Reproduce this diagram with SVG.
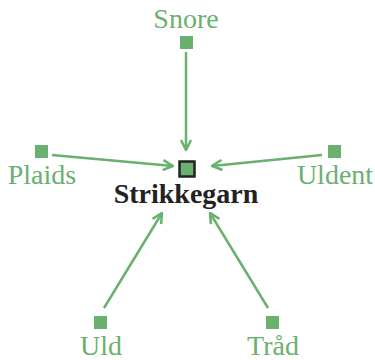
<svg xmlns="http://www.w3.org/2000/svg" width="375" height="360" viewBox="0 0 375 360">
<defs>
<style>
.lbl{font-family:"Liberation Serif","Times New Roman",serif;font-size:28px;fill:#6ab06f;text-anchor:middle}
.sq{fill:#6ab06f}
.edge{stroke:#6ab06f;stroke-width:2.5;fill:none;marker-end:url(#arr)}
</style>
<marker id="arr" viewBox="0 0 12 12" refX="11" refY="6" markerWidth="12" markerHeight="12" markerUnits="userSpaceOnUse" orient="auto">
<path d="M1,1 L11,6 L1,11" fill="none" stroke="#6ab06f" stroke-width="2.5"/>
</marker>
</defs>
<rect width="375" height="360" fill="#fff"/>
<g id="connectors">
<line class="edge" x1="186" y1="52" x2="186" y2="150"/>
<line class="edge" x1="52" y1="155" x2="173" y2="166"/>
<line class="edge" x1="322" y1="155" x2="212" y2="166"/>
<line class="edge" x1="104" y1="308" x2="162" y2="213"/>
<line class="edge" x1="268" y1="308" x2="210" y2="213"/>
</g>
<g id="strikkegarn">
<rect x="179.5" y="161.5" width="15" height="15" fill="#6ab06f" stroke="#222" stroke-width="2.5"/>
<text x="186" y="203" font-family="Liberation Serif,serif" font-weight="bold" font-size="28" fill="#222" text-anchor="middle">Strikkegarn</text>
</g>
<g id="snore">
<rect class="sq" x="180" y="36" width="13" height="13"/>
<text class="lbl" x="186" y="28">Snore</text>
</g>
<g id="plaids">
<rect class="sq" x="35" y="145" width="13" height="13"/>
<text class="lbl" x="42" y="184">Plaids</text>
</g>
<g id="uldent">
<rect class="sq" x="328" y="145" width="13" height="13"/>
<text class="lbl" x="335" y="184">Uldent</text>
</g>
<g id="uld">
<rect class="sq" x="94" y="316" width="13" height="13"/>
<text class="lbl" x="101" y="355">Uld</text>
</g>
<g id="trad">
<rect class="sq" x="266" y="316" width="13" height="13"/>
<text class="lbl" x="273" y="355">Tråd</text>
</g>
</svg>
